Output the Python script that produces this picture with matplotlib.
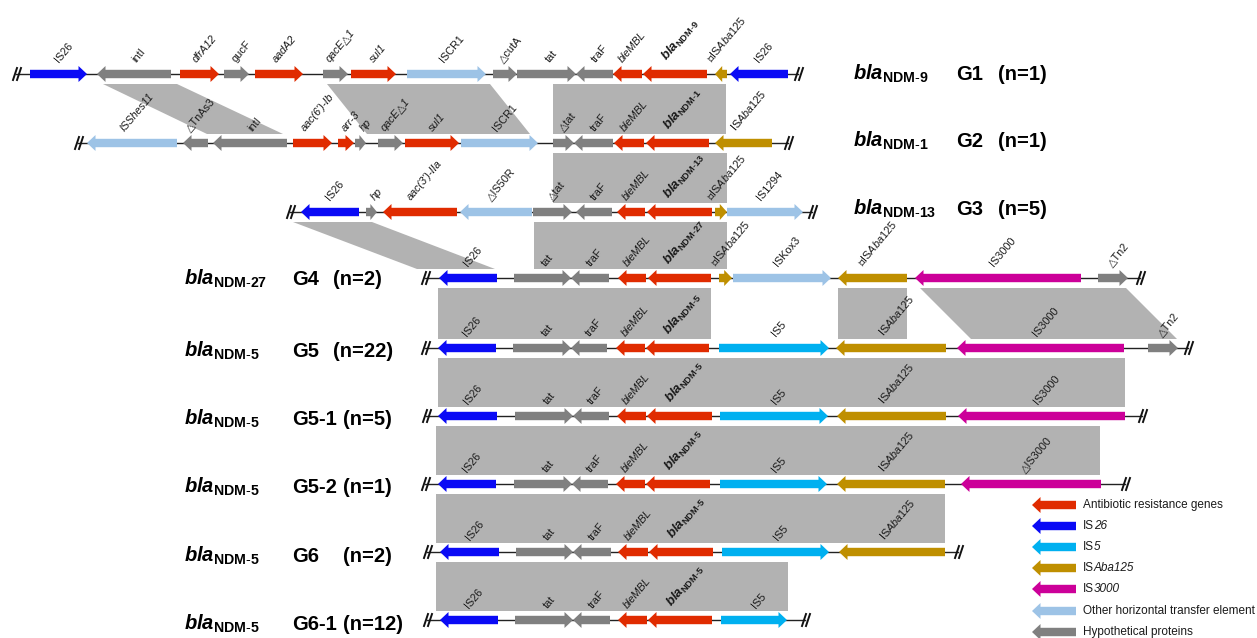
import matplotlib
matplotlib.use('Agg')
import matplotlib.pyplot as plt
from matplotlib.patches import Polygon

plt.rcParams['font.family'] = ['Liberation Sans', 'DejaVu Sans']
plt.rcParams['mathtext.fontset'] = 'custom'
plt.rcParams['mathtext.rm'] = 'Liberation Sans'
plt.rcParams['mathtext.it'] = 'Liberation Sans:italic'
plt.rcParams['mathtext.bf'] = 'Liberation Sans:bold'
plt.rcParams['mathtext.bfit'] = 'Liberation Sans:bold:italic'

# ---------------- data ----------------
# each gene: (label, start, end, strand, type)
g1_genes = [('IS26', 30, 87, 1, 'is26'), ('intI', 97, 171, -1, 'hyp'), ('dfrA12', 180, 219, 1, 'ar'),
            ('gucF', 224, 249, 1, 'hyp'), ('aadA2', 255, 303, 1, 'ar'), ('qacE△1', 323, 348, 1, 'hyp'),
            ('sul1', 351, 396, 1, 'ar'), ('ISCR1', 407, 486, 1, 'other'), ('△cutA', 493, 517, 1, 'hyp'),
            ('tat', 517, 576, 1, 'hyp'), ('traF', 576, 613, -1, 'hyp'), ('bleMBL', 613, 642, -1, 'ar'),
            ('bla:9', 643, 707, -1, 'ar'), ('△ISAba125', 715, 727, -1, 'isaba'), ('IS26', 730, 788, -1, 'is26')]
g2_genes = [('ISShes11', 87, 177, -1, 'other'), ('△TnAs3', 183, 208, -1, 'hyp'), ('intI', 213, 287, -1, 'hyp'),
            ("aac(6')-Ib", 293, 332, 1, 'ar'), ('arr-3', 338, 354, 1, 'ar'), ('hp', 355, 366, 1, 'hyp'),
            ('qacE△1', 378, 403, 1, 'hyp'), ('sul1', 405, 459, 1, 'ar'), ('ISCR1', 461, 538, 1, 'other'),
            ('△tat', 553, 574, 1, 'hyp'), ('traF', 574, 613, -1, 'hyp'), ('bleMBL', 614, 644, -1, 'ar'),
            ('bla:1', 646, 709, -1, 'ar'), ('ISAba125', 715, 772, -1, 'isaba')]
g3_genes = [('IS26', 301, 359, -1, 'is26'), ('hp', 366, 377, 1, 'hyp'), ("aac(3')-IIa", 383, 457, -1, 'ar'),
            ('△IS50R', 460, 532, -1, 'other'), ('△tat', 533, 572, 1, 'hyp'), ('traF', 576, 612, -1, 'hyp'),
            ('bleMBL', 617, 645, -1, 'ar'), ('bla:13', 647, 712, -1, 'ar'), ('△ISAba125', 715, 727, 1, 'isaba'),
            ('IS1294', 727, 803, 1, 'other')]
g4_genes = [('IS26', 439, 497, -1, 'is26'), ('tat', 514, 571, 1, 'hyp'), ('traF', 571, 609, -1, 'hyp'),
            ('bleMBL', 618, 646, -1, 'ar'), ('bla:27', 648, 711, -1, 'ar'), ('△ISAba125', 719, 732, 1, 'isaba'),
            ('ISKox3', 733, 831, 1, 'other'), ('△ISAba125', 838, 907, -1, 'isaba'),
            ('IS3000', 915, 1081, -1, 'is3000'), ('△Tn2', 1098, 1128, 1, 'hyp')]
g5_genes = [('IS26', 438, 496, -1, 'is26'), ('tat', 513, 571, 1, 'hyp'), ('traF', 571, 607, -1, 'hyp'),
            ('bleMBL', 616, 645, -1, 'ar'), ('bla:5', 646, 709, -1, 'ar'), ('IS5', 719, 829, 1, 'is5'),
            ('ISAba125', 836, 946, -1, 'isaba'), ('IS3000', 957, 1124, -1, 'is3000'), ('△Tn2', 1148, 1178, 1, 'hyp')]
g51_genes = [('IS26', 438, 497, -1, 'is26'), ('tat', 515, 573, 1, 'hyp'), ('traF', 573, 609, -1, 'hyp'),
             ('bleMBL', 617, 646, -1, 'ar'), ('bla:5', 647, 712, -1, 'ar'), ('IS5', 720, 828, 1, 'is5'),
             ('ISAba125', 837, 946, -1, 'isaba'), ('IS3000', 958, 1125, -1, 'is3000')]
g52_genes = [('IS26', 438, 496, -1, 'is26'), ('tat', 514, 572, 1, 'hyp'), ('traF', 572, 608, -1, 'hyp'),
             ('bleMBL', 616, 645, -1, 'ar'), ('bla:5', 646, 710, -1, 'ar'), ('IS5', 720, 827, 1, 'is5'),
             ('ISAba125', 837, 945, -1, 'isaba'), ('△IS3000', 961, 1101, -1, 'is3000')]
g6_genes = [('IS26', 440, 499, -1, 'is26'), ('tat', 516, 573, 1, 'hyp'), ('traF', 573, 611, -1, 'hyp'),
            ('bleMBL', 618, 648, -1, 'ar'), ('bla:5', 649, 713, -1, 'ar'), ('IS5', 722, 829, 1, 'is5'),
            ('ISAba125', 839, 945, -1, 'isaba')]
g61_genes = [('IS26', 440, 498, -1, 'is26'), ('tat', 515, 573, 1, 'hyp'), ('traF', 573, 610, -1, 'hyp'),
             ('bleMBL', 618, 647, -1, 'ar'), ('bla:5', 648, 712, -1, 'ar'), ('IS5', 721, 787, 1, 'is5')]

rows = [g1_genes, g2_genes, g3_genes, g4_genes, g5_genes, g51_genes, g52_genes, g6_genes, g61_genes]
row_extent = [(16, 798), (78, 788), (290, 812), (425, 1140), (425, 1188), (426, 1142), (425, 1125),
              (427, 958), (427, 805)]

group_variant = ['9', '1', '13', '27', '5', '5', '5', '5', '5']
group_name = ['G1', 'G2', 'G3', 'G4', 'G5', 'G5-1', 'G5-2', 'G6', 'G6-1']
group_n = ['(n=1)', '(n=1)', '(n=5)', '(n=2)', '(n=22)', '(n=5)', '(n=1)', '(n=2)', '(n=12)']

# homology blocks between row i and i+1: (row, top_x0, top_x1, bottom_x0, bottom_x1)
blocks = [(0, 103, 177, 207, 283), (0, 327, 490, 367, 530), (0, 553, 726, 553, 726),
          (1, 553, 727, 553, 727),
          (2, 293, 372, 417, 495), (2, 534, 727, 534, 727),
          (3, 438, 711, 438, 711), (3, 838, 907, 838, 907), (3, 920, 1126, 971, 1177),
          (4, 438, 1125, 438, 1125), (5, 436, 1100, 436, 1100), (6, 436, 945, 436, 945),
          (7, 436, 788, 436, 788)]

legend_types = ['ar', 'is26', 'is5', 'isaba', 'is3000', 'other', 'hyp']
legend_plain = ['Antibiotic resistance genes', 'IS', 'IS', 'IS', 'IS', 'Other horizontal transfer element',
                'Hypothetical proteins']
legend_italic = ['', '26', '5', 'Aba125', '3000', '', '']

# ---------------- style / layout ----------------
colors = {'ar': '#e02b00', 'is26': '#0a0af5', 'is5': '#00b0f0', 'isaba': '#bf8f00',
          'is3000': '#cc0099', 'other': '#9dc3e6', 'hyp': '#808080'}
row_y = [74, 143, 212, 278, 348, 416, 484, 552, 620]
italic_labels = {'dfrA12', 'aadA2', 'qacE△1', 'sul1', 'bleMBL', "aac(6')-Ib", 'arr-3', 'hp',
                 "aac(3')-IIa", 'ISShes11'}

fig = plt.figure(figsize=(12.57, 6.38), dpi=100)
ax = fig.add_axes([0, 0, 1, 1])
ax.set_xlim(0, 1257)
ax.set_ylim(638, 0)
ax.axis('off')


def arrow(x0, x1, y, strand, color, hb=4.2, hh=8.0, hl=8.5):
    L = x1 - x0
    h = min(hl, 0.6 * L)
    if strand > 0:
        pts = [(x0, y - hb), (x1 - h, y - hb), (x1 - h, y - hh), (x1, y), (x1 - h, y + hh),
               (x1 - h, y + hb), (x0, y + hb)]
    else:
        pts = [(x1, y - hb), (x0 + h, y - hb), (x0 + h, y - hh), (x0, y), (x0 + h, y + hh),
               (x0 + h, y + hb), (x1, y + hb)]
    ax.add_patch(Polygon(pts, closed=True, facecolor=color, edgecolor='none', zorder=3))


def fmt_label(lab):
    if lab.startswith('bla:'):
        v = lab.split(':')[1]
        return r'$\mathbfit{bla}_{\mathbf{NDM}\text{-}\mathbf{' + v + '}}$', 9.5, 'bold', 'normal'
    if 'ISAba125' in lab:
        pre = lab.replace('ISAba125', '')
        return pre + r'IS$\mathit{Aba}$125', 7.8, 'normal', 'normal'
    if lab in italic_labels:
        return lab, 7.8, 'normal', 'italic'
    return lab, 7.8, 'normal', 'normal'


# homology blocks
for (r, tx0, tx1, bx0, bx1) in blocks:
    yt = row_y[r] + 10
    yb = row_y[r + 1] - 9
    ax.add_patch(Polygon([(tx0, yt), (tx1, yt), (bx1, yb), (bx0, yb)], closed=True,
                         facecolor='#b2b2b2', edgecolor='none', zorder=1))

# rows
for i, genes in enumerate(rows):
    y = row_y[i]
    xl, xr = row_extent[i]
    ax.plot([xl, xr], [y, y], color='#222222', lw=1.0, zorder=2)
    for xb in (xl, xr):
        for dx in (0, 4):
            ax.plot([xb - 3 + dx, xb + 1 + dx], [y + 6, y - 6], color='#111111', lw=1.4, zorder=4)
    for (lab, s, e, strand, typ) in genes:
        arrow(s, e, y, strand, colors[typ])
        txt, fs, fw, st = fmt_label(lab)
        ax.text((s + e) / 2 + 5, y - 10, txt, rotation=50, ha='center', va='bottom',
                fontsize=fs, fontweight=fw, fontstyle=st, color='#1a1a1a', zorder=5)

# group labels
for i in range(9):
    y = row_y[i]
    if i < 3:
        xb, xg, xn = 853, 956, 998
        yb = y + [6, 4, 3][i]
    else:
        xb, xg, xn = 184, 292, 333 if i < 5 else 343
        yb = y + [7, 9, 9, 9, 10, 10][i - 3]
    ax.text(xb, yb, r'$\mathbfit{bla}_{\mathbf{NDM}\text{-}\mathbf{' + group_variant[i] + '}}$',
            fontsize=14.5, ha='left', va='baseline', color='black')
    ax.text(xg, yb, group_name[i], fontsize=14.5, fontweight='bold', ha='left', va='baseline')
    ax.text(xn, yb, group_n[i], fontsize=14.5, fontweight='bold', ha='left', va='baseline')

# legend
leg_y = [505, 526, 547, 568, 589, 611, 632]
renderer = fig.canvas.get_renderer()
inv = ax.transData.inverted()
for typ, p, it, ly in zip(legend_types, legend_plain, legend_italic, leg_y):
    arrow(1032, 1076, ly, -1, colors[typ])
    t = ax.text(1083, ly, p, fontsize=8.5, ha='left', va='center', color='#1a1a1a')
    if it:
        bb = t.get_window_extent(renderer=renderer)
        x_end = inv.transform((bb.x1, bb.y0))[0]
        ax.text(x_end, ly, it, fontsize=8.5, fontstyle='italic', ha='left', va='center', color='#1a1a1a')

fig.savefig('out.png', dpi=100)
